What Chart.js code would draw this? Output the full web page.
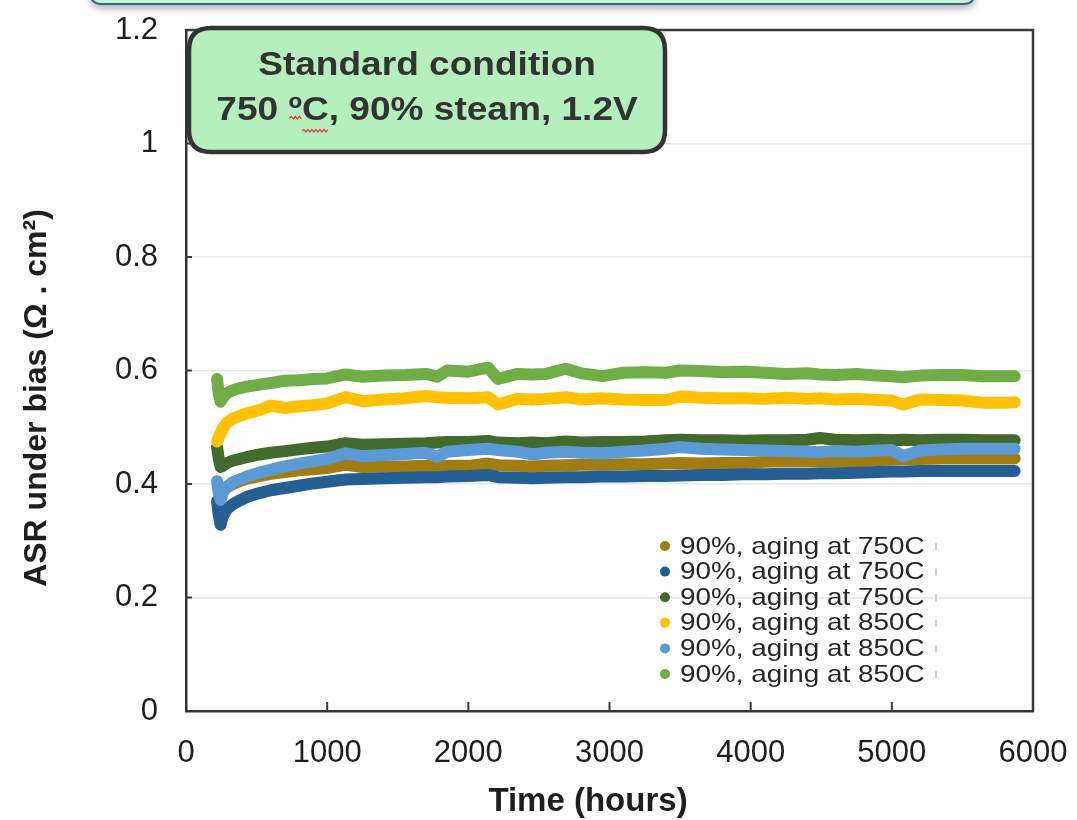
<!DOCTYPE html>
<html>
<head>
<meta charset="utf-8">
<script src="https://cdn.jsdelivr.net/npm/chart.js"></script>
<style>
  html, body { margin: 0; padding: 0; background: #fff; }
  canvas { display: block; }
</style>
</head>
<body>
<canvas id="asrChart" width="1077" height="820"></canvas>
<script>
  // test time (h)
  const hours = [220, 232, 245, 260, 290, 330, 380, 440, 520, 600,
    700, 800, 900, 1000, 1130, 1250, 1400, 1550, 1700, 1780,
    1850, 2000, 2140, 2210, 2350, 2450, 2550, 2690, 2800, 2950,
    3100, 3250, 3400, 3500, 3650, 3800, 3950, 4100, 4250, 4400,
    4490, 4600, 4750, 4900, 5000, 5080, 5200, 5350, 5500, 5650,
    5800, 5870];

  // ASR under bias, ohm.cm2
  const aging750a = [null, null, null, 0.387, 0.394, 0.400, 0.405, 0.410, 0.414, 0.418,
    0.421, 0.424, 0.426, 0.428, 0.434, 0.430, 0.431, 0.431, 0.432, 0.431,
    0.432, 0.432, 0.436, 0.433, 0.432, 0.431, 0.432, 0.433, 0.434, 0.434,
    0.435, 0.435, 0.436, 0.437, 0.436, 0.437, 0.437, 0.439, 0.440, 0.440,
    0.441, 0.440, 0.440, 0.442, 0.443, 0.444, 0.444, 0.445, 0.445, 0.445,
    0.445, 0.445];
  const aging750b = [0.370, 0.345, 0.328, 0.343, 0.356, 0.364, 0.371, 0.378, 0.384, 0.389,
    0.393, 0.397, 0.401, 0.404, 0.408, 0.409, 0.410, 0.411, 0.412, 0.412,
    0.413, 0.414, 0.416, 0.412, 0.411, 0.410, 0.411, 0.412, 0.412, 0.413,
    0.413, 0.414, 0.414, 0.415, 0.416, 0.416, 0.417, 0.417, 0.418, 0.418,
    0.419, 0.419, 0.420, 0.421, 0.422, 0.422, 0.423, 0.423, 0.423, 0.423,
    0.423, 0.423];
  const aging750c = [0.465, 0.445, 0.430, 0.432, 0.437, 0.441, 0.444, 0.448, 0.452, 0.455,
    0.458, 0.461, 0.464, 0.466, 0.472, 0.469, 0.470, 0.471, 0.472, 0.473,
    0.474, 0.474, 0.476, 0.473, 0.472, 0.473, 0.472, 0.475, 0.473, 0.474,
    0.474, 0.475, 0.477, 0.478, 0.477, 0.477, 0.476, 0.477, 0.477, 0.478,
    0.481, 0.478, 0.477, 0.478, 0.477, 0.478, 0.477, 0.478, 0.478, 0.477,
    0.477, 0.477];
  const aging850a = [0.475, 0.482, 0.490, 0.498, 0.508, 0.515, 0.520, 0.525, 0.530, 0.538,
    0.534, 0.537, 0.539, 0.542, 0.553, 0.546, 0.549, 0.551, 0.555, 0.553,
    0.552, 0.551, 0.553, 0.540, 0.550, 0.549, 0.550, 0.553, 0.549, 0.551,
    0.549, 0.548, 0.548, 0.554, 0.552, 0.551, 0.551, 0.550, 0.552, 0.550,
    0.551, 0.549, 0.550, 0.548, 0.547, 0.540, 0.549, 0.548, 0.547, 0.543,
    0.543, 0.544];
  const aging850b = [0.405, 0.385, 0.372, 0.385, 0.395, 0.403, 0.408, 0.414, 0.420, 0.425,
    0.431, 0.436, 0.440, 0.444, 0.454, 0.449, 0.451, 0.453, 0.455, 0.448,
    0.457, 0.460, 0.462, 0.460, 0.457, 0.452, 0.455, 0.457, 0.455, 0.454,
    0.457, 0.459, 0.462, 0.465, 0.462, 0.461, 0.460, 0.459, 0.458, 0.457,
    0.456, 0.458, 0.457, 0.459, 0.460, 0.449, 0.459, 0.461, 0.462, 0.462,
    0.462, 0.462];
  const aging850c = [0.585, 0.560, 0.545, 0.552, 0.560, 0.565, 0.569, 0.572, 0.575, 0.578,
    0.582, 0.583, 0.585, 0.586, 0.593, 0.589, 0.591, 0.592, 0.594, 0.589,
    0.600, 0.598, 0.605, 0.585, 0.594, 0.593, 0.594, 0.603, 0.595, 0.590,
    0.596, 0.597, 0.596, 0.600, 0.599, 0.597, 0.598, 0.596, 0.594, 0.595,
    0.593, 0.592, 0.594, 0.591, 0.590, 0.588, 0.591, 0.592, 0.592, 0.590,
    0.590, 0.590];

  const seriesLabels = ['90%, aging at 750C', '90%, aging at 750C', '90%, aging at 750C',
    '90%, aging at 850C', '90%, aging at 850C', '90%, aging at 850C'];
  const seriesValues = [aging750a, aging750b, aging750c, aging850a, aging850b, aging850c];
  const seriesColors = ['#A07C12', '#255E91', '#416A2C', '#FFC000', '#5B9BD5', '#70AD47'];

  const boxLines = ['Standard condition', '750 \u00baC, 90% steam, 1.2V'];
  const xTitle = 'Time (hours)';
  const yTitle = 'ASR under bias (\u03a9 . cm\u00b2)';

  const FONT = "'Liberation Sans', Arial, sans-serif";
  Chart.defaults.font.family = FONT;
  Chart.defaults.color = '#1e1e1e';

  function roundRect(ctx, x, y, w, h, r) {
    ctx.beginPath();
    ctx.moveTo(x + r, y);
    ctx.lineTo(x + w - r, y);
    ctx.quadraticCurveTo(x + w, y, x + w, y + r);
    ctx.lineTo(x + w, y + h - r);
    ctx.quadraticCurveTo(x + w, y + h, x + w - r, y + h);
    ctx.lineTo(x + r, y + h);
    ctx.quadraticCurveTo(x, y + h, x, y + h - r);
    ctx.lineTo(x, y + r);
    ctx.quadraticCurveTo(x, y, x + r, y);
    ctx.closePath();
  }

  function squiggle(ctx, x0, x1, y) {
    ctx.beginPath();
    let up = true;
    ctx.moveTo(x0, y);
    for (let x = x0 + 2; x <= x1; x += 2) {
      ctx.lineTo(x, up ? y - 1.5 : y + 1);
      up = !up;
    }
    ctx.stroke();
  }

  // no extra room for half-labels at the ends of the axes
  function noEdgePadding(s) {
    s.paddingLeft = 0;
    s.paddingRight = 0;
    s.paddingTop = 0;
    s.paddingBottom = 0;
  }

  // frame, inner ticks, axis titles, legend and the label boxes
  const decorations = {
    id: 'decorations',
    afterDraw(chart) {
      const ctx = chart.ctx;
      const area = chart.chartArea;
      const xs = chart.scales.x;
      const ys = chart.scales.y;
      ctx.save();

      // top and right frame
      ctx.strokeStyle = '#3a3a3a';
      ctx.lineWidth = 2.5;
      ctx.beginPath();
      ctx.moveTo(area.left, area.top);
      ctx.lineTo(area.right, area.top);
      ctx.lineTo(area.right, area.bottom);
      ctx.stroke();

      // ticks pointing into the plot
      ctx.lineWidth = 2;
      ctx.beginPath();
      xs.ticks.forEach(t => {
        if (t.value <= 0 || t.value >= 6000) return;
        const px = xs.getPixelForValue(t.value);
        ctx.moveTo(px, area.bottom);
        ctx.lineTo(px, area.bottom - 9);
      });
      ys.ticks.forEach(t => {
        if (t.value <= 0 || t.value >= 1.2) return;
        const py = ys.getPixelForValue(t.value);
        ctx.moveTo(area.left, py);
        ctx.lineTo(area.left + 6, py);
      });
      ctx.stroke();

      // axis titles
      ctx.fillStyle = '#1e1e1e';
      ctx.textAlign = 'center';
      ctx.textBaseline = 'middle';
      ctx.font = 'bold 33px ' + FONT;
      ctx.fillText(xTitle, 588, 802);
      ctx.save();
      ctx.translate(37, 398);
      ctx.rotate(-Math.PI / 2);
      ctx.font = 'bold 32px ' + FONT;
      ctx.fillText(yTitle, 0, 0);
      ctx.restore();

      // legend
      ctx.textAlign = 'left';
      ctx.font = '24px ' + FONT;
      chart.data.datasets.forEach((ds, i) => {
        const y = 546 + i * 25.6;
        ctx.fillStyle = ds.borderColor;
        ctx.beginPath();
        ctx.arc(665, y, 5, 0, Math.PI * 2);
        ctx.fill();
        ctx.fillStyle = '#262626';
        ctx.save();
        ctx.translate(680, y + 1);
        ctx.scale(1.16, 1);
        ctx.fillText(ds.label, 0, 0);
        ctx.restore();
        ctx.fillStyle = '#d0d0d0';
        ctx.fillRect(935, y - 3, 2, 7);
      });

      // partly hidden box at the top
      ctx.save();
      ctx.shadowColor = 'rgba(0,0,0,0.35)';
      ctx.shadowBlur = 8;
      ctx.shadowOffsetY = 4;
      roundRect(ctx, 90, -40, 885, 44, 12);
      ctx.fillStyle = '#c9f2d3';
      ctx.fill();
      ctx.restore();
      roundRect(ctx, 90, -40, 885, 44, 12);
      ctx.strokeStyle = '#2f6f86';
      ctx.lineWidth = 2;
      ctx.stroke();

      // condition box
      roundRect(ctx, 189, 28, 476, 124, 22);
      ctx.fillStyle = '#b6efbe';
      ctx.fill();
      ctx.strokeStyle = '#333';
      ctx.lineWidth = 4.5;
      ctx.stroke();

      ctx.fillStyle = '#333';
      ctx.textAlign = 'center';
      ctx.textBaseline = 'middle';
      ctx.font = 'bold 34px ' + FONT;
      const sx = 1.09;
      const cx = 427;
      [66, 111].forEach((y, i) => {
        ctx.save();
        ctx.translate(cx, y);
        ctx.scale(sx, 1);
        ctx.fillText(boxLines[i], 0, 0);
        ctx.restore();
      });

      // spell-check marks under the degree sign
      const full = ctx.measureText(boxLines[1]).width * sx;
      const pre = ctx.measureText('750 ').width * sx;
      const deg = ctx.measureText('\u00ba').width * sx;
      const cw = ctx.measureText('C').width * sx;
      const x0 = cx - full / 2 + pre;
      ctx.strokeStyle = '#e0302a';
      ctx.lineWidth = 1.2;
      squiggle(ctx, x0 + 1, x0 + deg, 118);
      squiggle(ctx, x0 + deg, x0 + deg + cw, 131);

      ctx.restore();
    }
  };

  const datasets = seriesValues.map((vals, i) => ({
    label: seriesLabels[i],
    data: hours.map((h, j) => ({ x: h, y: vals[j] })),
    borderColor: seriesColors[i],
    backgroundColor: seriesColors[i],
    borderWidth: 12,
    borderCapStyle: 'round',
    borderJoinStyle: 'round',
    pointRadius: 0,
    spanGaps: false,
    order: seriesValues.length - i
  }));

  new Chart(document.getElementById('asrChart'), {
    type: 'line',
    data: { datasets: datasets },
    options: {
      responsive: false,
      animation: false,
      events: [],
      layout: { padding: { top: 30, right: 44, left: 0, bottom: 0 } },
      plugins: {
        legend: { display: false },
        tooltip: { enabled: false }
      },
      scales: {
        x: {
          type: 'linear',
          min: 0,
          max: 6000,
          afterFit: s => { s.height = 109; noEdgePadding(s); },
          ticks: {
            stepSize: 1000,
            font: { size: 31 },
            padding: 24,
            maxRotation: 0,
            callback: v => String(v)
          },
          grid: { display: false, drawTicks: false },
          border: { display: true, color: '#333', width: 2.5 }
        },
        y: {
          min: 0,
          max: 1.2,
          afterFit: s => { s.width = 186; noEdgePadding(s); },
          ticks: {
            stepSize: 0.2,
            font: { size: 31 },
            padding: 28,
            callback: v => String(+v.toFixed(1))
          },
          grid: { color: '#e3e7ee', lineWidth: 1.5, drawTicks: false },
          border: { display: true, color: '#333', width: 2.5 }
        }
      }
    },
    plugins: [decorations]
  });
</script>
</body>
</html>
